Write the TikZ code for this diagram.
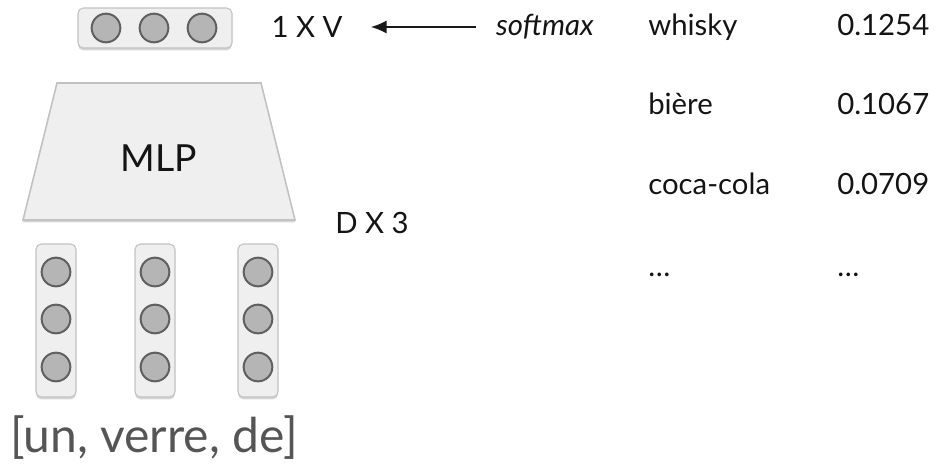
\documentclass[tikz,border=0pt]{standalone}
\usepackage{fontspec}
\setmainfont{Lato}
\usepackage{xcolor}
\usetikzlibrary{arrows.meta,positioning,shadows}
\definecolor{cellfill}{HTML}{EFEFEF}
\definecolor{cellline}{HTML}{C2C2C2}
\definecolor{unitfill}{HTML}{B5B5B5}
\definecolor{unitline}{HTML}{606060}
\definecolor{wordgray}{HTML}{555555}
\tikzset{
  vecbox/.style={draw=cellline,fill=cellfill,line width=0.8pt,rounded corners=4pt,
    drop shadow={shadow xshift=0pt,shadow yshift=-1.8pt,opacity=0.3,fill=black!55}},
  mlpbox/.style={draw=cellline,fill=cellfill,line width=1.2pt,
    drop shadow={shadow xshift=0pt,shadow yshift=-1.8pt,opacity=0.3,fill=black!55}},
  unit/.style={circle,draw=unitline,fill=unitfill,line width=1.5pt,
    minimum size=21.5pt,inner sep=0pt},
  txt/.style={inner sep=0pt,text=black!92,font=\fontsize{22}{26}\selectfont},
  every node/.style={font=\fontsize{22}{26}\selectfont}
}
\tikzstyle{arrow} = [line width=1.5pt,-{Latex[length=12pt,width=10pt]},black!90]

\begin{document}
\begin{tikzpicture}[x=0.75pt,y=-0.75pt]
  \useasboundingbox (0,0) rectangle (948,472);

  % output vector
  \draw[vecbox] (78,8) rectangle (232,48);
  \foreach \x [count=\i] in {106,154,202}
    \node[unit] (out\i) at (\x,28) {};

  % MLP block
  \draw[mlpbox] (57,83) -- (261,83) -- (295,220) -- (23,220) -- cycle;
  \node[txt,font=\fontsize{28}{32}\selectfont] (mlp) at (159,158) {MLP};

  % input embeddings, one column per word
  \foreach \x [count=\j] in {56,155,258} {
    \draw[vecbox] (\x-20,244) rectangle (\x+20,397);
    \foreach \y [count=\i] in {272,319,367}
      \node[unit] (in\j\i) at (\x,\y) {};
  }

  % sizes and softmax
  \node[txt] (outdim) at (307,27) {1 X V};
  \node[txt] (indim) at (372,223) {D X 3};
  \node[txt,font=\fontsize{22}{26}\itshape] (softmax) at (545,27) {softmax};
  \draw[arrow,shorten <=15pt,shorten >=21pt] (softmax.west) -- (outdim.east);

  % next word probabilities
  \node[txt,anchor=base west] (w1) at (648,35) {whisky};
  \node[txt,anchor=base west] (p1) at (837,35) {0.1254};
  \node[txt,anchor=base west] (w2) at (648,114) {bière};
  \node[txt,anchor=base west] (p2) at (837,114) {0.1067};
  \node[txt,anchor=base west] (w3) at (648,194) {coca-cola};
  \node[txt,anchor=base west] (p3) at (837,194) {0.0709};
  \node[txt,anchor=base west] (w4) at (648,276) {…};
  \node[txt,anchor=base west] (p4) at (837,276) {…};

  % context words
  \node[txt,anchor=base,text=wordgray,font=\fontsize{36}{41}\selectfont]
    (context) at (154,452) {[un, verre, de]};
\end{tikzpicture}
\end{document}
